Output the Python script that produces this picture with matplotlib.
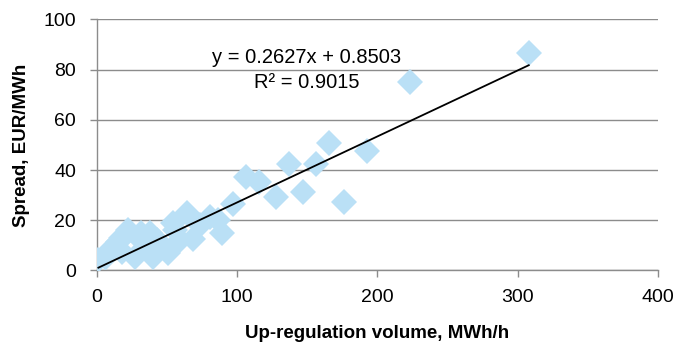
import matplotlib
matplotlib.use("Agg")
import matplotlib.pyplot as plt
import numpy as np

volume = [308, 223, 192.5, 165.5, 176, 156, 147, 137, 127.5, 115.5, 106, 97, 89,
          86, 80.5, 73.5, 68.5, 64, 59, 54, 55.5, 50.5, 43.5, 42.8, 41, 40, 38, 36,
          31.4, 29, 27, 22, 21.4, 17, 15, 17.8, 7.8, 6.5, 5.7, 1]
spread = [86.5, 75, 47.6, 50.8, 27.3, 42.4, 31.2, 42.4, 29.3, 35.2, 37.2, 26.5, 15,
          20, 21.3, 18, 12.5, 22.8, 12, 18.8, 16, 7, 11, 12, 7, 5.5, 15, 9.4,
          15, 13.3, 5.4, 16, 14.9, 13, 11.3, 7.4, 7.4, 5.4, 5.4, 4]
slope = 0.2627
intercept = 0.8503
r2 = 0.9015

xticks = [0, 100, 200, 300, 400]
yticks = [0, 20, 40, 60, 80, 100]

plt.rcParams['font.family'] = ['Liberation Sans', 'DejaVu Sans']

fig = plt.figure(figsize=(6.83, 3.47), dpi=100)
ax = fig.add_axes([0.142, 0.2205, 0.821, 0.7235])

ax.plot(volume, spread, linestyle='none', marker='D', markersize=13.5,
        color='#BAE0F6', markeredgewidth=0, zorder=3)
xl = np.array([min(volume), max(volume)])
ax.plot(xl, slope * xl + intercept, color='black', linewidth=1.3, zorder=4)

ax.set_xlim(0, 400)
ax.set_ylim(0, 100)
ax.set_xticks(xticks)
ax.set_yticks(yticks)
ax.grid(axis='y', color='#8C8C8C', linewidth=1.0)
ax.set_axisbelow(True)
for s in ['top', 'right']:
    ax.spines[s].set_visible(False)
for s in ['left', 'bottom']:
    ax.spines[s].set_color('#8C8C8C')
    ax.spines[s].set_linewidth(1.0)
ax.tick_params(axis='both', colors='#8C8C8C', labelcolor='black', labelsize=14,
               length=5, width=1, direction='out')
ax.tick_params(axis='x', pad=8)
ax.tick_params(axis='y', pad=10)

ax.set_xlabel('Up-regulation volume, MWh/h', fontsize=13.5, fontweight='bold', labelpad=14)
ax.set_ylabel('Spread, EUR/MWh', fontsize=13.5, fontweight='bold', labelpad=10)

ax.text(0.374, 0.849, f'y = {slope}x + {intercept}', transform=ax.transAxes,
        fontsize=14.5, ha='center', va='center')
ax.text(0.374, 0.748, f'R² = {r2}', transform=ax.transAxes,
        fontsize=14.5, ha='center', va='center')

fig.savefig('out.png', dpi=100)
